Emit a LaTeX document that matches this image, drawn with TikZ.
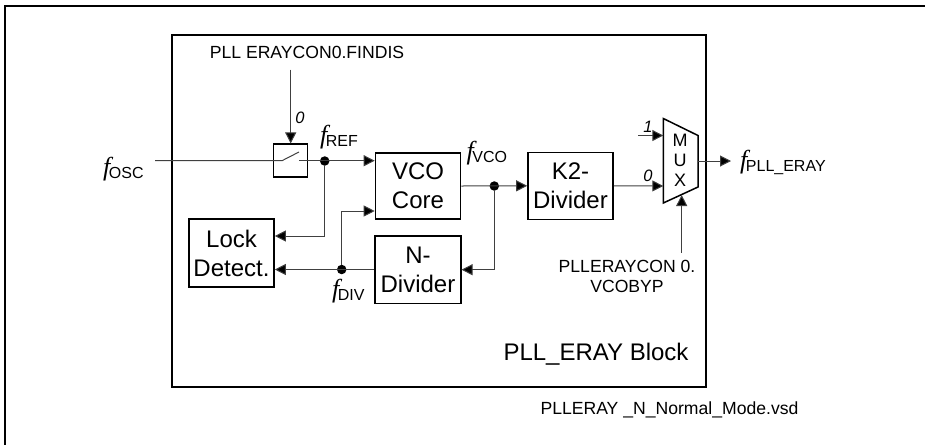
\documentclass[tikz,border=0pt]{standalone}
\usepackage{fontspec}
\setmainfont{Liberation Sans}
\newfontfamily\ftimes{Liberation Serif}
\usetikzlibrary{arrows.meta}
\tikzset{
  box/.style={draw,line width=1.6pt,minimum width=#1,inner sep=0pt,align=center,font=\fontsize{24}{29}\selectfont},
  conn/.style={line width=1pt,draw=black!75},
  arr/.style={conn,-{Triangle[length=11pt,width=11pt,fill=black]}},
  dotn/.style={circle,fill=black,inner sep=0pt,minimum size=9.5pt},
  lab/.style={inner sep=0pt,font=\fontsize{17.6}{20}\selectfont},
  digit/.style={inner sep=0pt,font=\fontsize{16.5}{18}\selectfont\itshape},
  sig/.style={inner sep=0pt},
}
\newcommand{\sg}[2]{{\ftimes\itshape\fontsize{26}{28}\selectfont #1}\kern-1.5pt\raisebox{-3pt}{\fontsize{16}{18}\selectfont #2}}
\begin{document}
\begin{tikzpicture}[x=1pt,y=-1pt]
\useasboundingbox (0,0) rectangle (925,445);
\coordinate (ftr) at (925,5.5);
\coordinate (ftl) at (5,5.5);
\coordinate (fbl) at (5,445);
\draw[line width=2pt] (ftr) -- (ftl) -- (fbl);
\node[draw,line width=1.6pt,minimum width=534.5pt,minimum height=351.5pt,inner sep=0pt] (block) at (439,211) {};
\node[draw,line width=1.5pt,minimum width=34pt,minimum height=33pt,inner sep=0pt] (sw) at (290.7,160.7) {};
\node[box=85pt,minimum height=66.5pt] (vco) at (418,186) {VCO\\Core};
\node[box=85pt,minimum height=67pt] (k2) at (570.5,185.8) {K2-\\Divider};
\node[box=85pt,minimum height=67.5pt] (lock) at (231.5,253) {Lock\\Detect.};
\node[box=85.5pt,minimum height=67.5pt] (ndiv) at (418,269.7) {N-\\Divider};
\node[dotn] (dref) at (324.7,161) {};
\node[dotn] (dvco) at (494.3,186) {};
\node[dotn] (ddiv) at (341.7,269.5) {};
\coordinate (oscin) at (155,160.7);
\coordinate (swa) at (282,160.7);
\coordinate (swb) at (299,152);
\coordinate (swc) at (299,160.7);
\coordinate (findis) at (290.7,69.5);
\coordinate (mtl) at (663.3,118.5);
\coordinate (mtr) at (698,135.5);
\coordinate (mbr) at (698,187);
\coordinate (mbl) at (663.3,203);
\draw[line width=1.5pt] (mtl) -- (mtr) -- (mbr) -- (mbl) -- cycle;
\node[inner sep=0pt,align=center,font=\fontsize{18}{20}\selectfont] (mux) at (680,160.5) {M\\U\\X};
\coordinate (in1) at (638,135.5);
\coordinate (in0) at (663.3,186);
\coordinate (inone) at (663.3,135.5);
\coordinate (ctl) at (681.7,252.7);
\coordinate (ctlend) at (681.7,195);
\coordinate (mout) at (698,161);
\coordinate (outend) at (731,161);
\draw[conn] (oscin) -- (swa) -- (swb);
\draw[arr] (swc) -- (vco.west |- swc);
\draw[arr] (findis) -- (sw.north);
\draw[arr] (dref) |- (lock.east |- 0,236);
\draw[arr] (ndiv.west |- ddiv) -- (lock.east |- ddiv);
\draw[arr] (ddiv) |- (vco.west |- 0,211);
\draw[arr] (vco.east) -- (k2.west);
\draw[arr] (dvco) |- (ndiv.east);
\draw[arr] (k2.east) -- (in0);
\draw[arr] (in1) -- (inone);
\draw[arr] (ctl) -- (ctlend);
\draw[arr] (mout) -- (outend);
\node[lab,anchor=center] (tfin) at (307,52) {PLL ERAYCON0.FINDIS};
\node[digit] (t0a) at (300,118) {0};
\node[digit] (t0b) at (648,176) {0};
\node[digit] (t1) at (648,127) {1};
\node[sig,anchor=base west] (fosc) at (103,175) {\sg{f}{OSC}};
\node[sig,anchor=base west] (fref) at (320,143) {\sg{f}{REF}};
\node[sig,anchor=base west] (fvco) at (466.5,159) {\sg{f}{VCO}};
\node[sig,anchor=base west] (fdiv) at (332,297) {\sg{f}{DIV}};
\node[sig,anchor=base west] (fpll) at (740,168) {\sg{f}{PLL\_ERAY}};
\node[lab,align=center] (tctl) at (627,276) {PLLERAYCON 0.\\VCOBYP};
\node[inner sep=0pt,font=\fontsize{24}{28}\selectfont] (tblk) at (596,354) {PLL\_ERAY Block};
\node[lab] (tvsd) at (669.5,410) {PLLERAY \_N\_Normal\_Mode.vsd};
\end{tikzpicture}
\end{document}
